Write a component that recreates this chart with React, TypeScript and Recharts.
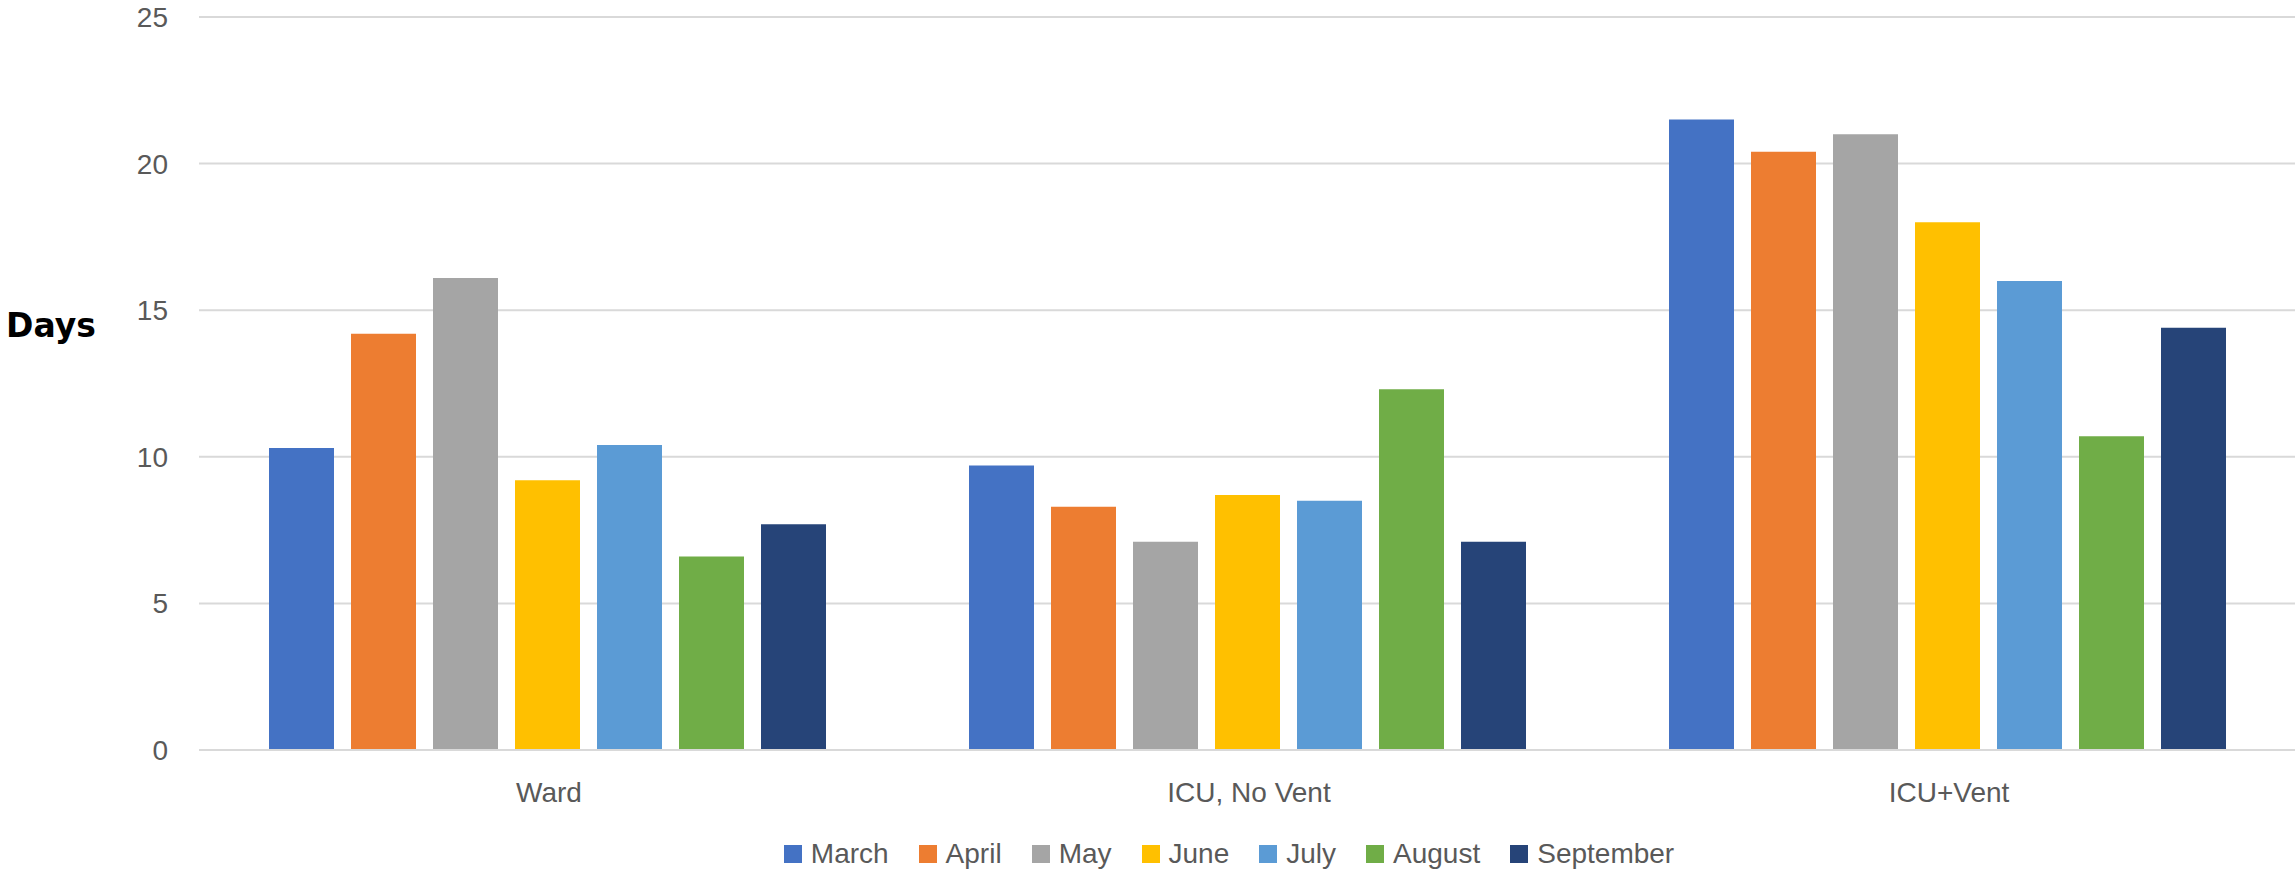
import { Bar, BarChart, CartesianGrid, Legend, XAxis, YAxis } from "recharts";

const categories = ["Ward", "ICU, No Vent", "ICU+Vent"];
const march = [10.3, 9.7, 21.5];
const april = [14.2, 8.3, 20.4];
const may = [16.1, 7.1, 21.0];
const june = [9.2, 8.7, 18.0];
const july = [10.4, 8.5, 16.0];
const august = [6.6, 12.3, 10.7];
const september = [7.7, 7.1, 14.4];
const yTicks = [0, 5, 10, 15, 20, 25];

const series = [
  { key: "March", values: march, color: "#4472C4" },
  { key: "April", values: april, color: "#ED7D31" },
  { key: "May", values: may, color: "#A5A5A5" },
  { key: "June", values: june, color: "#FFC000" },
  { key: "July", values: july, color: "#5B9BD5" },
  { key: "August", values: august, color: "#70AD47" },
  { key: "September", values: september, color: "#264478" },
];

const rows = categories.map((name, i) => {
  const row: Record<string, string | number> = { name };
  series.forEach((s) => {
    row[s.key] = s.values[i];
  });
  return row;
});

const FONT = "'Liberation Sans', Arial, sans-serif";
const TEXT = "#595959";

function LegendRow() {
  return (
    <div
      style={{
        width: 2295,
        height: 81,
        boxSizing: "border-box",
        paddingTop: 50,
        paddingLeft: 163,
        display: "flex",
        justifyContent: "center",
        fontFamily: FONT,
        fontSize: 28,
        color: TEXT,
      }}
    >
      {series.map((s, i) => (
        <div
          key={s.key}
          style={{
            display: "flex",
            alignItems: "center",
            height: 28,
            lineHeight: "28px",
            marginRight: i < series.length - 1 ? 30 : 0,
          }}
        >
          <span style={{ width: 18, height: 18, background: s.color, marginRight: 9, display: "inline-block" }} />
          <span>{s.key}</span>
        </div>
      ))}
    </div>
  );
}

export default function App() {
  return (
    <div style={{ position: "absolute", left: 0, top: 0, width: 2295, height: 871, background: "#fff", overflow: "hidden" }}>
      <BarChart
        width={2295}
        height={871}
        data={rows}
        margin={{ top: 17, right: -4, bottom: 0, left: 0 }}
        barCategoryGap="10%"
        barGap={17}
      >
        <CartesianGrid vertical={false} stroke="#d9d9d9" strokeWidth={2} />
        <XAxis
          dataKey="name"
          height={40}
          tickLine={false}
          tickSize={0}
          tickMargin={32}
          axisLine={{ stroke: "#d9d9d9", strokeWidth: 2 }}
          tick={{ fill: TEXT, fontSize: 28, fontFamily: FONT }}
        />
        <YAxis
          width={199}
          domain={[0, 25]}
          ticks={yTicks}
          interval={0}
          tickLine={false}
          axisLine={false}
          tickSize={0}
          tickMargin={31}
          tick={{ fill: TEXT, fontSize: 28, fontFamily: FONT }}
          label={{
            content: () => (
              <text x={6} y={337} fill="#000" fontSize={33} fontWeight="bold" fontFamily="'DejaVu Sans', sans-serif">
                Days
              </text>
            ),
          }}
        />
        <Legend verticalAlign="bottom" wrapperStyle={{ left: 0, width: 2295 }} content={() => <LegendRow />} />
        {series.map((s) => (
          <Bar key={s.key} dataKey={s.key} fill={s.color} isAnimationActive={false} />
        ))}
      </BarChart>
    </div>
  );
}
